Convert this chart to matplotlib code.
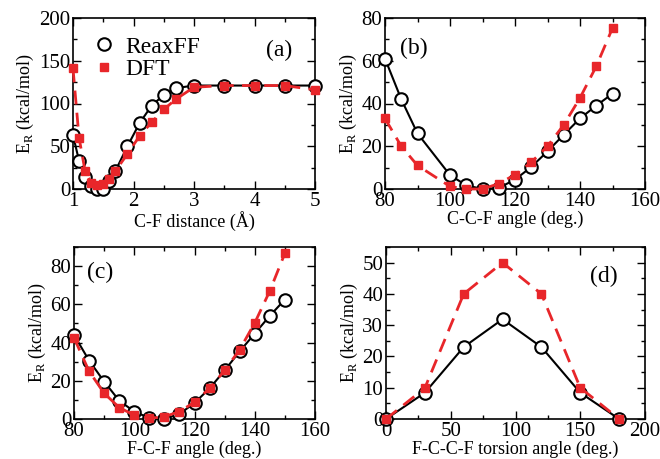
import matplotlib
matplotlib.use('Agg')
import matplotlib.pyplot as plt
from matplotlib.ticker import MultipleLocator
from matplotlib.lines import Line2D

plt.rcParams['font.family'] = ['Liberation Serif', 'DejaVu Serif']
plt.rcParams['mathtext.fontset'] = 'custom'
plt.rcParams['mathtext.rm'] = 'Liberation Serif'

# (a) C-F distance
dist_x = [1.0, 1.1, 1.2, 1.3, 1.4, 1.5, 1.6, 1.7, 1.9, 2.1, 2.3, 2.5, 2.7, 3.0, 3.5, 4.0, 4.5, 5.0]
dist_reax = [63, 33, 14, 3, 0, 0.5, 9, 21, 50, 77, 97.5, 110, 118, 121, 121, 121, 121, 121]
dist_dft = [141, 60, 21, 7, 5, 6, 12, 21, 41, 62, 78, 93, 105, 119, 121, 121, 121, 116]

# (b) C-C-F angle
ccf_x = [80, 85, 90, 100, 105, 110, 115, 120, 125, 130, 135, 140, 145, 150]
ccf_reax = [61, 42, 26, 6.5, 1.7, 0, 0.5, 4.4, 10.3, 17.6, 25.4, 33, 39, 44.6]
ccf_dft = [33, 20, 11, 1.2, 0, 0, 2.5, 6.7, 12.5, 20, 30, 42.6, 57.4, 75.3]

# (c) F-C-F angle
fcf_x = [80, 85, 90, 95, 100, 105, 110, 115, 120, 125, 130, 135, 140, 145, 150]
fcf_reax = [44, 30.6, 19.6, 9.6, 3.9, 0.5, 0, 2.6, 8.4, 16, 25.4, 35.4, 44.7, 54, 62.5]
fcf_dft = [42.5, 25, 13.5, 6, 2, 0.3, 1.2, 3.9, 8.8, 16, 25.4, 36.3, 50.3, 67, 86.7]

# (d) F-C-C-F torsion
tor_x = [0, 30, 60, 90, 120, 150, 180]
tor_reax = [0, 8.4, 23, 31.9, 23, 8.4, 0]
tor_dft = [0, 9.9, 40, 50, 40, 10, 0]

red = '#e8262a'

fig = plt.figure(figsize=(6.6, 4.59), dpi=100)
W, H = 660.0, 459.0
boxes = [(73, 18, 315, 189), (385, 18, 645, 189), (74, 247, 315, 419), (386, 247, 645, 419)]
axes = [fig.add_axes([l / W, 1 - b / H, (r - l) / W, (b - t) / H]) for (l, t, r, b) in boxes]

panels = [
    (dist_x, dist_reax, dist_dft, (1, 5), (0, 200), 1, 0.5, 50, 25, u'C-F distance (\u00c5)', '(a)'),
    (ccf_x, ccf_reax, ccf_dft, (80, 160), (0, 80), 20, 10, 20, 10, 'C-C-F angle (deg.)', '(b)'),
    (fcf_x, fcf_reax, fcf_dft, (80, 160), (0, 90), 20, 10, 20, 10, 'F-C-F angle (deg.)', '(c)'),
    (tor_x, tor_reax, tor_dft, (0, 200), (0, 55), 50, 25, 10, 5, 'F-C-C-F torsion angle (deg.)', '(d)'),
]
label_pos = [(0.85, 0.81), (0.11, 0.82), (0.11, 0.85), (0.84, 0.83)]

for ax, p, lp in zip(axes, panels, label_pos):
    x, reax, dft, xl, yl, xmaj, xmin, ymaj, ymin, xlabel, tag = p
    ax.plot(x, reax, '-', color='black', lw=1.5, marker='o', ms=9,
            mfc='white', mec='black', mew=1.5, label='ReaxFF', clip_on=False, zorder=3)
    ax.plot(x, dft, '--', color=red, lw=2, dashes=(5, 3), marker='s', ms=5.5,
            mfc=red, mec=red, label='DFT', clip_on=False, zorder=4)
    ax.set_xlim(xl)
    ax.set_ylim(yl)
    ax.xaxis.set_major_locator(MultipleLocator(xmaj))
    ax.xaxis.set_minor_locator(MultipleLocator(xmin))
    ax.yaxis.set_major_locator(MultipleLocator(ymaj))
    ax.yaxis.set_minor_locator(MultipleLocator(ymin))
    ax.tick_params(which='both', direction='in', top=True, right=True, labelsize=15, pad=2)
    ax.tick_params(which='major', length=6, width=1)
    ax.tick_params(which='minor', length=3, width=1)
    for s in ax.spines.values():
        s.set_linewidth(1.2)
    ax.set_xlabel(xlabel, fontsize=13, labelpad=0)
    ax.set_ylabel(r'E$_\mathrm{R}$ (kcal/mol)', fontsize=13, labelpad=2)
    ax.text(lp[0], lp[1], tag, transform=ax.transAxes, fontsize=17, ha='center', va='center')

labels = ['ReaxFF', 'DFT']
hh = [Line2D([], [], ls='none', marker='o', ms=9, mfc='white', mec='black', mew=1.5),
      Line2D([], [], ls='none', marker='s', ms=5.5, mfc=red, mec=red)]
axes[0].legend(hh, labels, loc='upper left', bbox_to_anchor=(-0.01, 1.005), frameon=False,
               fontsize=17, handletextpad=0.3, borderpad=0.3, labelspacing=0.05, handlelength=1.2)

plt.savefig('out.png', dpi=100)
